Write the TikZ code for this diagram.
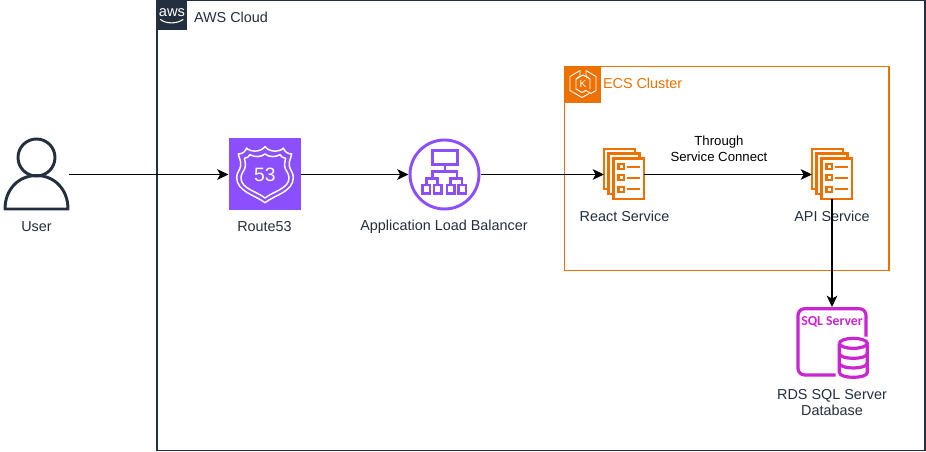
\documentclass[tikz,border=0pt]{standalone}
\usepackage{fontspec}
\setmainfont{Liberation Sans}
\newfontfamily\sqlfont{Carlito}
\usetikzlibrary{arrows.meta}
\definecolor{awsdark}{HTML}{232F3E}
\definecolor{awspurple}{HTML}{8C4FFF}
\definecolor{awsorange}{HTML}{ED7100}
\definecolor{ecsframe}{HTML}{ED7100}
\definecolor{awsmagenta}{HTML}{C925D1}
\tikzset{
  x=0.75pt,y=-0.75pt,
  slot/.style={inner sep=0pt,outer sep=0pt,minimum width=#1,minimum height=#1},
  lbl/.style={inner sep=0pt,outer sep=0pt,text=awsdark,align=center,font=\fontsize{10.8pt}{12pt}\selectfont},
  lblb/.style={inner sep=0pt,outer sep=0pt,text=black,align=center,font=\fontsize{9.9pt}{12pt}\selectfont},
  conn/.style={draw=black,line width=0.9pt,-{Stealth[length=8.5pt,width=8pt,inset=2.2pt]}},
  svcicon/.pic={
    \begin{scope}[draw=awsorange,line width=1.9pt,fill=white,line join=miter]
      \filldraw (0,0) rectangle (31,40);
      \filldraw (4.7,4.7) rectangle (35.5,45);
      \filldraw (9.5,9.7) rectangle (40,50);
      \foreach \yy in {17.7,28.8,40.3}{
        \draw[line width=1.6pt] (14.5,\yy-2.6) rectangle (19.8,\yy+2.6);
        \draw[line width=1.6pt] (22.5,\yy) -- (36,\yy);
      }
    \end{scope}
  }
}
\begin{document}
\begin{tikzpicture}
\useasboundingbox (0,0) rectangle (926,452);
\fill[white] (0,0) rectangle (926,452);
% groups
\draw[awsdark,line width=0.9pt] (157,0.5) rectangle (925,450.5);
\fill[awsdark] (157,0) rectangle (187,30);
\node[inner sep=0pt,text=white,font=\fontsize{11pt}{11pt}\selectfont] (awslogo) at (172,12.5) {aws};
\draw[white,line width=0.8pt,line cap=round] (160.5,19.5) .. controls (166,24) and (177,24) .. (183,19.5);
\node[anchor=west,lbl] (awslabel) at (194,17) {AWS Cloud};
\draw[ecsframe,line width=0.9pt] (564.5,66.5) rectangle (889,270.5);
\fill[awsorange] (564.5,66.5) rectangle (601,103);
\begin{scope}[white,line width=0.7pt,line join=round]
  \draw (580,70.5) -- (570,76.5) -- (570,90.5) -- (582,97.5) -- (589,93.5);
  \draw (586,70.5) -- (596,76.5) -- (596,90.5) -- (591,93.5) -- (586,90.5);
  \draw (580,70.5) -- (580,76) -- (576,79) -- (576,89) -- (582,92.5) -- (586,90.5);
  \draw (586,70.5) -- (586,76) -- (590,79) -- (590,89);
  \draw (576,79) -- (583,75) -- (590,79);
\end{scope}
\node[inner sep=0pt,text=white,font=\fontsize{7.5pt}{8pt}\selectfont] (klogo) at (583,84) {K};
\node[anchor=west,lbl,text=awsorange] (ecslabel) at (603,83) {ECS Cluster};
% labels first: connectors pass over them
\node[lbl] (userl) at (36.5,227) {User};
\node[lbl] (r53l) at (264.5,227) {Route53};
\node[lbl] (albl) at (444,227) {Application Load Balancer};
\node[lbl] (reactl) at (624.5,216) {React Service};
\node[lbl] (apil) at (832,216) {API Service};
\node[lbl] (rdsl) at (832,403) {RDS SQL Server\\Database};
\node[lblb] (thrl) at (719,149) {Through\\Service Connect};
% icon slots
\node[slot=49.5pt] (user) at (36,174.5) {};
\node[slot=54pt] (r53) at (264.5,174.5) {};
\node[slot=54pt] (alb) at (444.5,174.5) {};
\node[inner sep=0pt,outer sep=0pt,minimum width=30pt,minimum height=37.5pt] (react) at (624,174.5) {};
\node[inner sep=0pt,outer sep=0pt,minimum width=30pt,minimum height=37.5pt] (api) at (832,174.5) {};
\node[inner sep=0pt,outer sep=0pt,minimum width=52.5pt,minimum height=52.5pt] (sql) at (832,342) {};
% user
\draw[awsdark,line width=2.2pt] (36.5,157.5) circle[radius=18.5];
\draw[awsdark,line width=2.2pt,line join=round] (5,209) .. controls (5,189) and (19,175.5) .. (36.5,175.5) .. controls (54,175.5) and (68,189) .. (68,209) -- cycle;
% route 53
\fill[awspurple] (r53.south west) rectangle (r53.north east);
\begin{scope}[shift={(220,130)},x=0.25pt,y=-0.25pt,white,line width=1.1pt,line join=round]
  \draw (55,72) .. controls (68,72) and (76,64) .. (80,54) .. controls (88,66) and (122,68) .. (135,50) .. controls (148,68) and (182,66) .. (190,54) .. controls (194,64) and (202,72) .. (215,72) .. controls (212,88) and (206,92) .. (208,108) .. controls (210,120) and (220,128) .. (220,142) .. controls (220,185) and (165,195) .. (135,218) .. controls (105,195) and (50,185) .. (50,142) .. controls (50,128) and (60,120) .. (62,108) .. controls (64,92) and (58,88) .. (55,72) -- cycle;
  \draw (73,85) .. controls (82,84) and (86,80) .. (90,74) .. controls (104,82) and (122,82) .. (135,72) .. controls (148,82) and (166,82) .. (180,74) .. controls (184,80) and (188,84) .. (197,85) .. controls (194,98) and (192,104) .. (196,116) .. controls (200,126) and (207,132) .. (207,144) .. controls (207,176) and (160,184) .. (135,204) .. controls (110,184) and (63,176) .. (63,144) .. controls (63,132) and (70,126) .. (74,116) .. controls (78,104) and (76,98) .. (73,85) -- cycle;
\end{scope}
\node[inner sep=0pt,text=white,font=\fontsize{14.5pt}{15pt}\selectfont] (r53num) at (265,175) {53};
% ALB
\draw[awspurple,line width=2.2pt] (alb.center) circle[radius=34.5];
\begin{scope}[shift={(400,130)},x=0.25pt,y=-0.25pt,awspurple,line width=1.9pt]
  \draw (97,62) rectangle (172,103);
  \draw (134.5,103) -- (134.5,124);
  \draw (98,145) -- (98,124) -- (171,124) -- (171,145);
  \draw (79,165) -- (79,145) -- (113,145) -- (113,165);
  \draw (152,165) -- (152,145) -- (186,145) -- (186,165);
  \draw (68,165) rectangle (90,190);
  \draw (102,165) rectangle (124,190);
  \draw (141,165) rectangle (163,190);
  \draw (175,165) rectangle (198,190);
\end{scope}
% services
\pic at (604,149) {svcicon};
\pic at (812,149) {svcicon};
% SQL
\begin{scope}[shift={(770,295)},x=0.25pt,y=-0.25pt,awsmagenta,line width=2.4pt]
  \draw[rounded corners=5pt] (197,240) -- (84,240) -- (84,41) -- (288,41) -- (288,125);
  \draw (208,145) arc[start angle=180,end angle=-180,x radius=42,y radius=15];
  \draw (208,145) -- (208,232) .. controls (208,252) and (292,252) .. (292,232) -- (292,145);
  \draw (208,175) .. controls (208,195) and (292,195) .. (292,175);
  \draw (208,204) .. controls (208,224) and (292,224) .. (292,204);
\end{scope}
\node[inner sep=0pt,text=awsmagenta,font=\sqlfont\bfseries\fontsize{10.3pt}{12pt}\selectfont] (sqltxt) at (832,322) {SQL Server};
% connectors
\draw[conn] (user) -- (r53);
\draw[conn] (r53) -- (alb);
\draw[conn] (alb) -- (react);
\draw[conn] (react) -- (api);
\draw[conn] (api) -- (sql);
\end{tikzpicture}
\end{document}
